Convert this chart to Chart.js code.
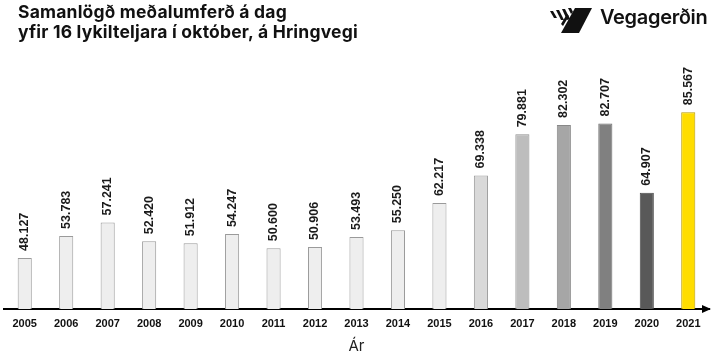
<!DOCTYPE html>
<html>
<head>
<meta charset="utf-8">
<script src="https://cdn.jsdelivr.net/npm/chart.js@4.4.0/dist/chart.umd.min.js"></script>
<style>
  html, body { margin: 0; padding: 0; background: #fff; }
  #wrap { position: relative; width: 713px; height: 357px; overflow: hidden; }
  #c { position: absolute; left: 0; top: 0; }
  #title { position: absolute; left: 18px; top: 2px; font-family: Inter, "Noto Sans", sans-serif; font-weight: 700; font-size: 17.5px; line-height: 20px; color: #111; letter-spacing: 0.2px; }
  #logo { position: absolute; left: 548px; top: 3px; }
  #logoText { position: absolute; left: 600px; top: 5px; font-family: Inter, "Noto Sans", sans-serif; font-weight: 600; font-size: 20px; color: #111; letter-spacing: -0.3px; }
</style>
</head>
<body>
<div id="wrap">
  <canvas id="c" width="713" height="357"></canvas>
  <div id="title">Samanlögð meðalumferð á dag<br>yfir 16 lykilteljara í október, á Hringvegi</div>
  <svg id="logo" viewBox="0 0 50 34" width="50" height="34">
    <polygon points="27,5 44,5 31,30 13,30" fill="#111"/>
    <polygon points="2,8 5,8 9,15 6,15" fill="#111"/>
    <polygon points="8,7 11,7 16,17 13,17" fill="#111"/>
    <polygon points="14,6 17,6 22,16 19,17" fill="#111"/>
    <polygon points="20,5 23,5 25,9 23,11" fill="#111"/>
    <polygon points="13,21 19,11 21,13 15,23" fill="#111"/>
  </svg>
  <div id="logoText">Vegagerðin</div>
</div>
<script>
const categories = ["2005","2006","2007","2008","2009","2010","2011","2012","2013","2014","2015","2016","2017","2018","2019","2020","2021"];
const values = [48127,53783,57241,52420,51912,54247,50600,50906,53493,55250,62217,69338,79881,82302,82707,64907,85567];
const valueLabels = ["48.127","53.783","57.241","52.420","51.912","54.247","50.600","50.906","53.493","55.250","62.217","69.338","79.881","82.302","82.707","64.907","85.567"];
const barColors = ["#eeeeee","#eeeeee","#eeeeee","#eeeeee","#eeeeee","#eeeeee","#eeeeee","#eeeeee","#eeeeee","#eeeeee","#eeeeee","#d9d9d9","#bdbdbd","#a6a6a6","#808080","#595959","#ffdd00"];
const borderColors = ["#9a9a9a","#9a9a9a","#9a9a9a","#9a9a9a","#9a9a9a","#9a9a9a","#9a9a9a","#9a9a9a","#9a9a9a","#9a9a9a","#9a9a9a","#9a9a9a","#909090","#888888","#6e6e6e","#4a4a4a","#b89c00"];
const axisTitle = "Ár";

const labelPlugin = {
  id: 'valLabels',
  afterDatasetsDraw(chart) {
    const ctx = chart.ctx;
    const meta = chart.getDatasetMeta(0);
    ctx.save();
    ctx.font = 'bold 12.5px "Liberation Sans", Arial, sans-serif';
    ctx.fillStyle = '#1a1a1a';
    ctx.textAlign = 'left';
    ctx.textBaseline = 'middle';
    meta.data.forEach((bar, i) => {
      ctx.save();
      ctx.translate(bar.x, bar.y - 7);
      ctx.rotate(-Math.PI / 2);
      ctx.fillText(valueLabels[i], 0, 0);
      ctx.restore();
    });
    const a = chart.chartArea;
    ctx.fillStyle = '#000';
    ctx.beginPath();
    ctx.moveTo(a.right + 2, a.bottom);
    ctx.lineTo(a.right - 7, a.bottom - 4);
    ctx.lineTo(a.right - 7, a.bottom + 4);
    ctx.closePath();
    ctx.fill();
    ctx.restore();
  }
};

new Chart(document.getElementById('c'), {
  type: 'bar',
  data: {
    labels: categories,
    datasets: [{
      data: values,
      backgroundColor: barColors,
      borderColor: borderColors,
      borderWidth: 1,
      borderSkipped: 'bottom',
      barPercentage: 0.34,
      categoryPercentage: 1.0
    }]
  },
  options: {
    responsive: false,
    animation: false,
    layout: { padding: { top: 95, left: 4, right: 4, bottom: 0 } },
    plugins: { legend: { display: false }, tooltip: { enabled: false } },
    scales: {
      y: { display: false, min: 35000, max: 90000 },
      x: {
        grid: { display: false, drawTicks: false },
        border: { display: true, color: '#000', width: 2 },
        ticks: { color: '#111', padding: 8, font: { family: '"Liberation Sans", Arial, sans-serif', size: 11, weight: 'bold' }, maxRotation: 0 },
        title: { display: true, text: axisTitle, color: '#222', font: { family: 'Inter, "Noto Sans", sans-serif', size: 15 }, padding: { top: 0, bottom: 2 } },
        afterFit(scale) { scale.height = 48; }
      }
    }
  },
  plugins: [labelPlugin]
});
</script>
</body>
</html>
